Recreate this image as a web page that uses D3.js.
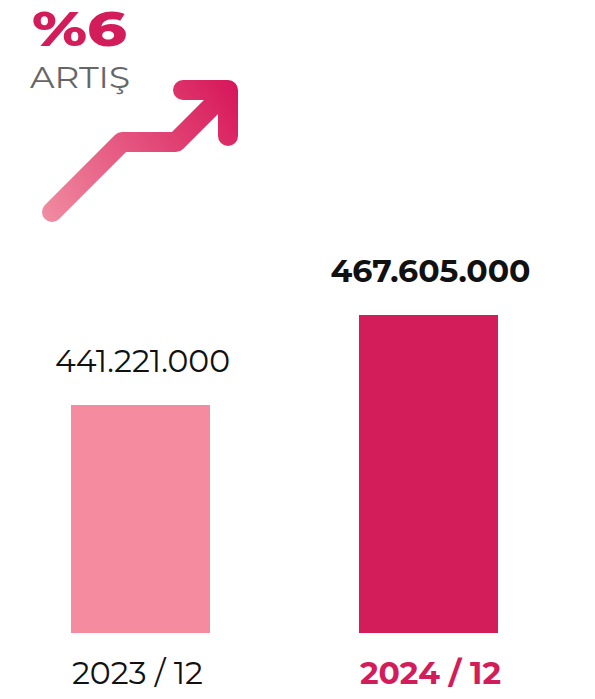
<!DOCTYPE html>
<html><head><meta charset="utf-8">
<script src="https://cdn.jsdelivr.net/npm/d3@7"></script>
<style>html,body{margin:0;padding:0;background:#fff;}</style>
</head><body>
<svg id="c" width="595" height="699"></svg>
<script>
const categories = ["2023 / 12", "2024 / 12"];
const values = [441221000, 467605000];
const valueLabels = ["441.221.000", "467.605.000"];
const headline = "%6";
const subline = "ARTIŞ";

const svg = d3.select("#c");
const font = "Montserrat, Inter, 'Noto Sans', sans-serif";
const barColors = ["#f48b9f", "#d31c5a"];

const x = d3.scaleBand().domain(categories).range([-1, 570]).paddingInner(0.5174).paddingOuter(0.25);
const y = d3.scaleLinear().domain([374.4e6, 467.605e6]).range([633, 315]);

// bars
svg.selectAll("rect.bar").data(values).join("rect")
  .attr("class", "bar")
  .attr("x", (d, i) => x(categories[i]))
  .attr("width", x.bandwidth())
  .attr("y", d => y(d))
  .attr("height", d => y.range()[0] - y(d))
  .attr("fill", (d, i) => barColors[i]);

// value labels
svg.selectAll("text.val").data(values).join("text")
  .attr("class", "val")
  .attr("x", (d, i) => x(categories[i]) + x.bandwidth() / 2 + 2)
  .attr("y", d => y(d) - 33)
  .attr("text-anchor", "middle")
  .attr("font-family", font)
  .attr("font-size", 31)
  .attr("font-weight", (d, i) => i === 1 ? 700 : 400)
  .attr("fill", "#111")
  .attr("textLength", (d, i) => i === 1 ? 200 : 175)
  .attr("lengthAdjust", "spacingAndGlyphs")
  .text((d, i) => valueLabels[i]);

// category labels
svg.selectAll("text.cat").data(categories).join("text")
  .attr("class", "cat")
  .attr("x", d => x(d) + 1)
  .attr("y", 684)
  .attr("font-family", font)
  .attr("font-size", 31)
  .attr("font-weight", (d, i) => i === 1 ? 700 : 400)
  .attr("fill", (d, i) => i === 1 ? "#d31c5a" : "#111")
  .attr("textLength", (d, i) => i === 1 ? 141 : 131)
  .attr("lengthAdjust", "spacingAndGlyphs")
  .text(d => d);

// headline
svg.append("text").attr("x", 32).attr("y", 46)
  .attr("font-family", font).attr("font-size", 48).attr("font-weight", 800)
  .attr("fill", "#d31c5a")
  .attr("textLength", 95).attr("lengthAdjust", "spacingAndGlyphs")
  .text(headline);
svg.append("text").attr("x", 30).attr("y", 88)
  .attr("font-family", font).attr("font-size", 30).attr("font-weight", 400)
  .attr("fill", "#666")
  .attr("textLength", 100).attr("lengthAdjust", "spacingAndGlyphs")
  .text(subline);

// arrow
const defs = svg.append("defs");
const g = defs.append("linearGradient").attr("id", "ag")
  .attr("gradientUnits", "userSpaceOnUse")
  .attr("x1", 45).attr("y1", 215).attr("x2", 235).attr("y2", 85);
g.append("stop").attr("offset", 0).attr("stop-color", "#f08aa0");
g.append("stop").attr("offset", 1).attr("stop-color", "#d7185a");

const line = d3.line();
const shaft = [[52, 212], [122, 142], [176, 142], [226, 92]];
const head = [[183, 90], [228, 90], [228, 136]];
[shaft, head].forEach(pts => {
  svg.append("path").attr("d", line(pts))
    .attr("fill", "none").attr("stroke", "url(#ag)")
    .attr("stroke-width", 20).attr("stroke-linecap", "round").attr("stroke-linejoin", "round");
});
</script>
</body></html>
